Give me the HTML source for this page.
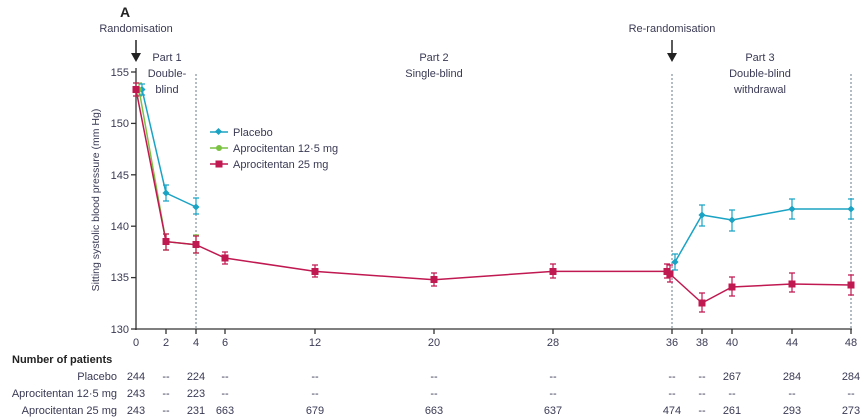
<!DOCTYPE html>
<html><head><meta charset="utf-8"><style>
body{margin:0;background:#fff;}
svg{display:block;font-family:"Liberation Sans",sans-serif;}
text{fill:#3a3a55;font-size:11px;}
</style></head><body>
<svg width="865" height="417" viewBox="0 0 865 417" xmlns="http://www.w3.org/2000/svg">
<text x="120" y="17" style="font-size:14px;font-weight:bold;fill:#222">A</text>
<text x="136" y="32" text-anchor="middle">Randomisation</text>
<line x1="136" y1="40" x2="136" y2="56" stroke="#222" stroke-width="1.5"/>
<polygon points="131,53 141,53 136,62" fill="#222"/>
<text x="672" y="32" text-anchor="middle">Re-randomisation</text>
<line x1="672" y1="40" x2="672" y2="56" stroke="#222" stroke-width="1.5"/>
<polygon points="667,53 677,53 672,62" fill="#222"/>
<g text-anchor="middle">
<text x="167" y="61">Part 1</text><text x="167" y="77">Double-</text><text x="167" y="93">blind</text>
<text x="434" y="61">Part 2</text><text x="434" y="77">Single-blind</text>
<text x="760" y="61">Part 3</text><text x="760" y="77">Double-blind</text><text x="760" y="93">withdrawal</text>
</g>
<g stroke="#6a7a8a" stroke-width="1" stroke-dasharray="2,2">
<line x1="196" y1="74" x2="196" y2="329"/><line x1="672" y1="74" x2="672" y2="329"/><line x1="851" y1="74" x2="851" y2="329"/>
</g>
<line x1="136" y1="68" x2="136" y2="330" stroke="#333" stroke-width="1.3"/>
<line x1="135" y1="329" x2="852" y2="329" stroke="#333" stroke-width="1.3"/>
<g stroke="#333" stroke-width="1.3">
<line x1="131" y1="72" x2="136" y2="72"/><line x1="131" y1="123.4" x2="136" y2="123.4"/><line x1="131" y1="174.8" x2="136" y2="174.8"/><line x1="131" y1="226.2" x2="136" y2="226.2"/><line x1="131" y1="277.6" x2="136" y2="277.6"/><line x1="131" y1="329" x2="136" y2="329"/>
<line x1="166" y1="329" x2="166" y2="334"/><line x1="196" y1="329" x2="196" y2="334"/><line x1="225" y1="329" x2="225" y2="334"/><line x1="315" y1="329" x2="315" y2="334"/><line x1="434" y1="329" x2="434" y2="334"/><line x1="553" y1="329" x2="553" y2="334"/><line x1="672" y1="329" x2="672" y2="334"/><line x1="702" y1="329" x2="702" y2="334"/><line x1="732" y1="329" x2="732" y2="334"/><line x1="792" y1="329" x2="792" y2="334"/><line x1="851" y1="329" x2="851" y2="334"/>
</g>
<g text-anchor="end">
<text x="129" y="76">155</text><text x="129" y="127">150</text><text x="129" y="179">145</text><text x="129" y="230">140</text><text x="129" y="281">135</text><text x="129" y="333">130</text>
</g>
<g text-anchor="middle">
<text x="136" y="346">0</text><text x="166" y="346">2</text><text x="196" y="346">4</text><text x="225" y="346">6</text><text x="315" y="346">12</text><text x="434" y="346">20</text><text x="553" y="346">28</text><text x="672" y="346">36</text><text x="702" y="346">38</text><text x="732" y="346">40</text><text x="792" y="346">44</text><text x="851" y="346">48</text>
</g>
<text transform="translate(99,200) rotate(-90)" text-anchor="middle" style="font-size:10.5px">Sitting systolic blood pressure (mm Hg)</text>
<!-- legend -->
<line x1="210" y1="132" x2="228" y2="132" stroke="#1aa3c4" stroke-width="1.5"/><rect x="216" y="129" width="5" height="5" fill="#1aa3c4" transform="rotate(45 218.5 131.5)"/>
<text x="233" y="136">Placebo</text>
<line x1="210" y1="148" x2="228" y2="148" stroke="#7cc242" stroke-width="1.5"/><circle cx="219" cy="148" r="3" fill="#7cc242"/>
<text x="233" y="152">Aprocitentan 12·5 mg</text>
<line x1="210" y1="164" x2="228" y2="164" stroke="#c01850" stroke-width="1.5"/><rect x="215.5" y="160.5" width="7" height="7" fill="#c01850"/>
<text x="233" y="168">Aprocitentan 25 mg</text>
<!-- series -->
<g fill="none" stroke-width="1.5">
<polyline stroke="#7cc242" points="139,89.5 166,241.6 196,244.7"/>
<polyline stroke="#1aa3c4" points="142,89.5 166,193 196,207"/>
<polyline stroke="#1aa3c4" points="675,262 702,215 732,220 792,209 851,209"/>
<polyline stroke="#c01850" points="136,89.5 166,241.6 196,244.7 225,258 315,271.4 434,279.7 553,271.4 667,271.4 670,274 702,303 732,287 792,284 851,285"/>
</g>
<g stroke="#7cc242" stroke-width="1.2">
<path d="M139 83v13M136 83h6M136 96h6M166 234v16M163 234h6M163 250h6M196 235v18M193 235h6M193 253h6"/>
</g>
<g stroke="#1aa3c4" stroke-width="1.2">
<path d="M142 84v11M139 84h6M139 95h6M166 185v16M163 185h6M163 201h6M196 198v16M193 198h6M193 214h6M675 254v16M672 254h6M672 270h6M702 205v21M699 205h6M699 226h6M732 210v21M729 210h6M729 231h6M792 199v20M789 199h6M789 219h6M851 199v20M848 199h6M848 219h6"/>
</g>
<g fill="#1aa3c4">
<rect x="139.5" y="87" width="5" height="5" transform="rotate(45 142 89.5)"/><rect x="163.5" y="190.5" width="5" height="5" transform="rotate(45 166 193)"/><rect x="193.5" y="204.5" width="5" height="5" transform="rotate(45 196 207)"/><rect x="672.5" y="259.5" width="5" height="5" transform="rotate(45 675 262)"/><rect x="699.5" y="212.5" width="5" height="5" transform="rotate(45 702 215)"/><rect x="729.5" y="217.5" width="5" height="5" transform="rotate(45 732 220)"/><rect x="789.5" y="206.5" width="5" height="5" transform="rotate(45 792 209)"/><rect x="848.5" y="206.5" width="5" height="5" transform="rotate(45 851 209)"/>
</g>
<g fill="#7cc242"><circle cx="139" cy="89.5" r="2.8"/><circle cx="166" cy="241.6" r="2.8"/><circle cx="196" cy="244.7" r="2.8"/></g>
<g stroke="#c01850" stroke-width="1.2">
<path d="M136 83v13M133 83h6M133 96h6M166 234v16M163 234h6M163 250h6M196 236v17M193 236h6M193 253h6M225 252v12M222 252h6M222 264h6M315 265v12M312 265h6M312 277h6M434 273v13M431 273h6M431 286h6M553 264v14M550 264h6M550 278h6M667 264v14M664 264h6M664 278h6M670 265v17M667 265h6M667 282h6M702 293v19M699 293h6M699 312h6M732 277v19M729 277h6M729 296h6M792 273v19M789 273h6M789 292h6M851 275v20M848 275h6M848 295h6"/>
</g>
<g fill="#c01850">
<rect x="132.5" y="86" width="7" height="7"/><rect x="162.5" y="238" width="7" height="7"/><rect x="192.5" y="241" width="7" height="7"/><rect x="221.5" y="254.5" width="7" height="7"/><rect x="311.5" y="268" width="7" height="7"/><rect x="430.5" y="276" width="7" height="7"/><rect x="549.5" y="268" width="7" height="7"/><rect x="663.5" y="268" width="7" height="7"/><rect x="666.5" y="270.5" width="7" height="7"/><rect x="698.5" y="299.5" width="7" height="7"/><rect x="728.5" y="283.5" width="7" height="7"/><rect x="788.5" y="280.5" width="7" height="7"/><rect x="847.5" y="281.5" width="7" height="7"/>
</g>
<!-- table -->
<text x="12" y="363" style="font-weight:bold;fill:#222;font-size:11px">Number of patients</text>
<g text-anchor="end"><text x="117" y="380">Placebo</text><text x="117" y="397">Aprocitentan 12·5 mg</text><text x="117" y="414">Aprocitentan 25 mg</text></g>
<g text-anchor="middle">
<text x="136" y="380">244</text><text x="166" y="380">--</text><text x="196" y="380">224</text><text x="225" y="380">--</text><text x="315" y="380">--</text><text x="434" y="380">--</text><text x="553" y="380">--</text><text x="672" y="380">--</text><text x="702" y="380">--</text><text x="732" y="380">267</text><text x="792" y="380">284</text><text x="851" y="380">284</text>
<text x="136" y="397">243</text><text x="166" y="397">--</text><text x="196" y="397">223</text><text x="225" y="397">--</text><text x="315" y="397">--</text><text x="434" y="397">--</text><text x="553" y="397">--</text><text x="672" y="397">--</text><text x="702" y="397">--</text><text x="732" y="397">--</text><text x="792" y="397">--</text><text x="851" y="397">--</text>
<text x="136" y="414">243</text><text x="166" y="414">--</text><text x="196" y="414">231</text><text x="225" y="414">663</text><text x="315" y="414">679</text><text x="434" y="414">663</text><text x="553" y="414">637</text><text x="672" y="414">474</text><text x="702" y="414">--</text><text x="732" y="414">261</text><text x="792" y="414">293</text><text x="851" y="414">273</text>
</g>
</svg>
</body></html>
